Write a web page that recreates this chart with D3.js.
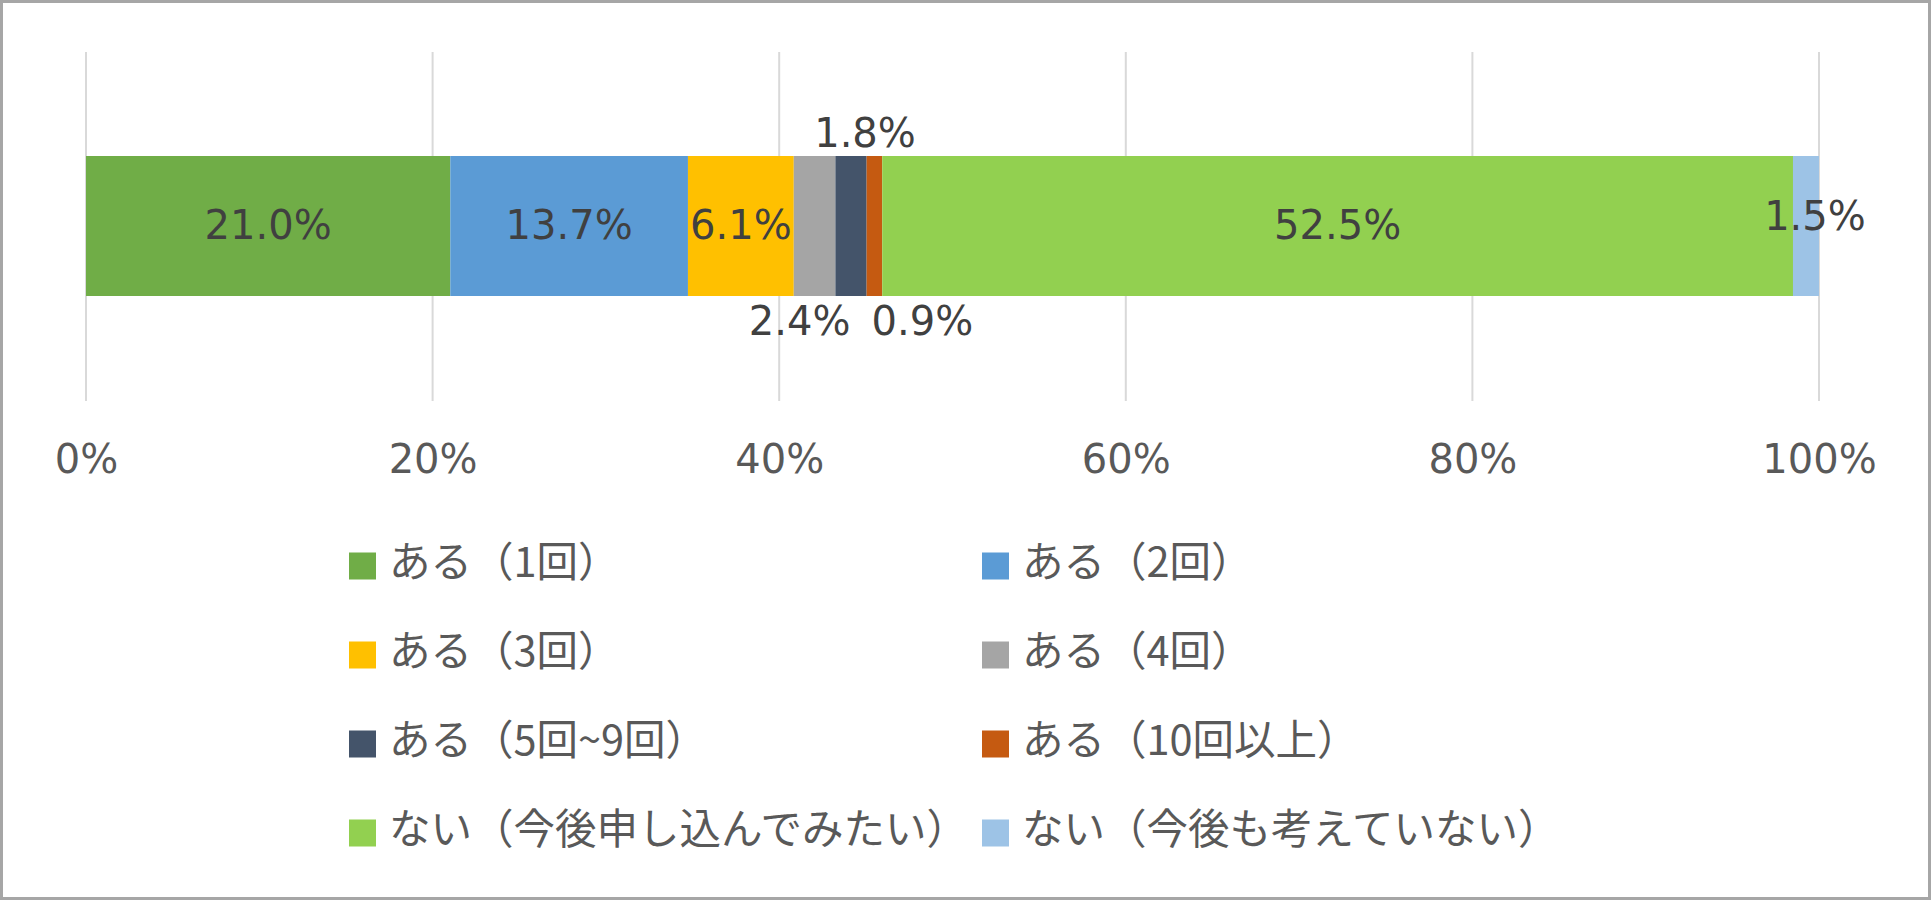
<!DOCTYPE html>
<html>
<head>
<meta charset="utf-8">
<script src="https://cdn.jsdelivr.net/npm/d3@7"></script>
<style>
  body { margin: 0; background: #fff; }
  svg { display: block; }
</style>
</head>
<body>
<svg width="1931" height="900"></svg>
<script>
// data
const categories = ["ある（1回）", "ある（2回）", "ある（3回）", "ある（4回）",
  "ある（5回~9回）", "ある（10回以上）", "ない（今後申し込んでみたい）", "ない（今後も考えていない）"]
const values = [21.0, 13.7, 6.1, 2.4, 1.8, 0.9, 52.5, 1.5]
const colors = ["#70AD47", "#5B9BD5", "#FFC000", "#A5A5A5", "#44546A", "#C55A11", "#92D050", "#9DC3E6"]
const ticks = [0, 20, 40, 60, 80, 100]

// where Excel put the labels of the thin pieces
const labelPlace = ["in", "in", "in", "below", "above", "below", "in", "in"]
const labelShift = [0, 0, 0, -15, 14, 48, 0, 9]

var svg = d3.select("svg")
var W = +svg.attr("width"), H = +svg.attr("height")

svg.append("rect")
  .attr("x", 1.5).attr("y", 1.5)
  .attr("width", W - 3).attr("height", H - 3)
  .attr("fill", "#fff")
  .attr("stroke", "#a6a6a6")
  .attr("stroke-width", 3)

const xScale = d3.scaleLinear().domain([0, 100]).range([86, 1819])
const barTop = 156, barBottom = 296
const gridTop = 52, gridBottom = 401

// gridlines
svg.append("g").selectAll("line")
  .data(ticks)
  .join("line")
  .attr("x1", d => xScale(d)).attr("x2", d => xScale(d))
  .attr("y1", gridTop).attr("y2", gridBottom)
  .attr("stroke", "#d9d9d9")
  .attr("stroke-width", 2)

// axis labels
const xAxis = d3.axisBottom(xScale)
  .tickValues(ticks)
  .tickFormat(d => d + "%")
  .tickSize(0)
  .tickPadding(0)

const ax = svg.append("g")
  .call(xAxis)
ax.select(".domain").remove()
ax.selectAll("text")
  .attr("y", 473)
  .attr("dy", null)
  .attr("fill", "#595959")
  .style("font-family", "'DejaVu Sans', Verdana, sans-serif")
  .style("font-size", "40px")

// 100% stacked: pieces are shares of the total
const total = d3.sum(values)
let stacked = []
let acc = 0
values.forEach(function (v, i) {
  let share = v / total * 100
  stacked.push({ cat: categories[i], value: v, start: acc, end: acc + share, i: i })
  acc += share
})

svg.append("g").selectAll("rect")
  .data(stacked)
  .join("rect")
  .attr("x", d => xScale(d.start))
  .attr("y", barTop)
  .attr("width", d => xScale(d.end) - xScale(d.start))
  .attr("height", barBottom - barTop)
  .attr("fill", d => colors[d.i])

// value labels
svg.append("g").selectAll("text")
  .data(stacked)
  .join("text")
  .attr("x", d => xScale((d.start + d.end) / 2) + labelShift[d.i])
  .attr("y", function (d) {
    if (labelPlace[d.i] == "above") return 147
    if (labelPlace[d.i] == "below") return 335
    if (d.i == 7) return 230
    return 239
  })
  .attr("text-anchor", "middle")
  .attr("fill", "#404040")
  .style("font-family", "'DejaVu Sans', Verdana, sans-serif")
  .style("font-size", "40px")
  .text(d => d.value.toFixed(1) + "%")

// legend, two columns
const colX = [349, 982]
const rowY = [566, 655, 744, 833]
const lg = svg.append("g").selectAll("g")
  .data(categories)
  .join("g")
  .attr("transform", (d, i) => "translate(" + colX[i % 2] + "," + rowY[Math.floor(i / 2)] + ")")

lg.append("rect")
  .attr("x", 0).attr("y", -13.5)
  .attr("width", 27).attr("height", 27)
  .attr("fill", (d, i) => colors[i])

lg.append("text")
  .attr("x", 40)
  .attr("y", -7)
  .attr("dominant-baseline", "central")
  .attr("fill", "#595959")
  .style("font-family", "'Noto Sans CJK JP', sans-serif")
  .style("font-size", "41.5px")
  .text(d => d)
</script>
</body>
</html>
